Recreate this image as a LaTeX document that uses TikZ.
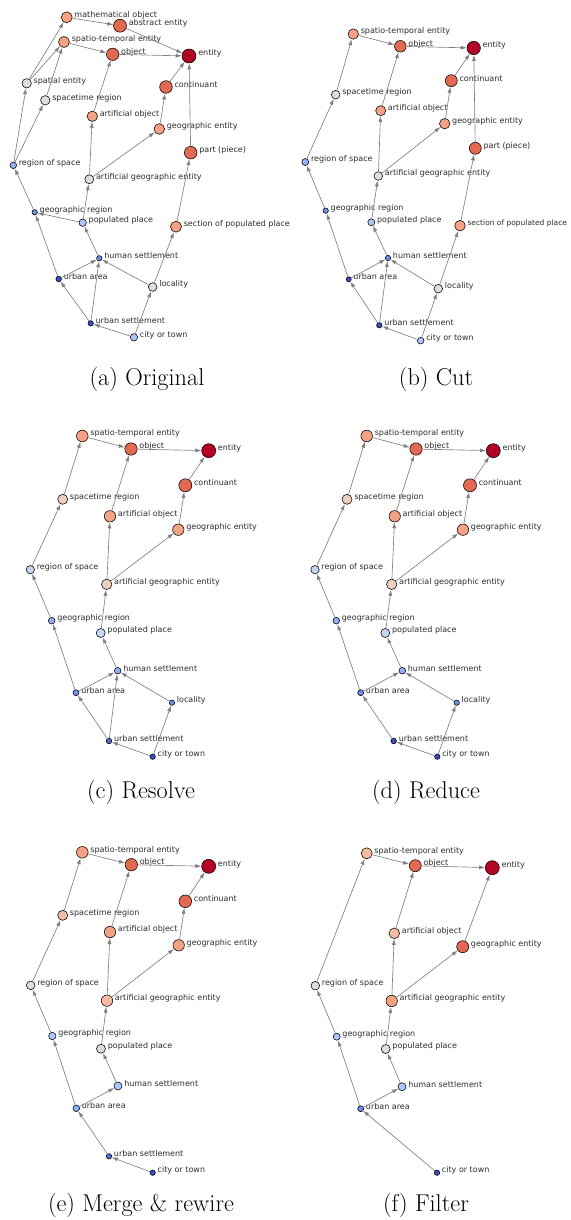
\documentclass[tikz,border=0pt]{standalone}
\usepackage{fontspec}
\newfontfamily\dejavu{DejaVu Sans}
\usetikzlibrary{arrows.meta}
\definecolor{cred}{RGB}{180,4,38}
\definecolor{wfour}{RGB}{226,105,82}
\definecolor{wthree}{RGB}{244,162,132}
\definecolor{wtwo}{RGB}{245,188,162}
\definecolor{wone}{RGB}{237,208,192}
\definecolor{cgray}{RGB}{221,221,221}
\definecolor{bsix}{RGB}{196,212,243}
\definecolor{bfive}{RGB}{172,199,251}
\definecolor{bfour}{RGB}{145,178,250}
\definecolor{bthree}{RGB}{108,142,234}
\definecolor{btwo}{RGB}{82,107,214}
\definecolor{bone}{RGB}{59,76,192}
\definecolor{edgegray}{RGB}{128,128,128}
\definecolor{labelgray}{RGB}{45,45,45}
\newcommand\mkn[6]{\node[nd={#5}{#4},label={[lbl]east:#6}] (#1) at (#2,#3) {};}
\tikzset{
  nd/.style 2 args={circle,draw=black,line width=0.55pt,inner sep=0pt,fill=#1,minimum size={2*#2pt}},
  lbl/.style={font=\dejavu\fontsize{8}{9}\selectfont,text=labelgray,inner sep=0pt,yshift=2.5pt},
  lblsmall/.style={lbl,font=\dejavu\fontsize{7.5}{9}\selectfont},
  label distance=1.8pt,
  edge/.style={draw=edgegray,line width=0.65pt,-{Latex[length=6pt,width=4pt]}},
  captxt/.style={font=\fontsize{24.3}{28}\selectfont,inner sep=0pt}
}
\begin{document}
\begin{tikzpicture}[x=1pt,y=-1pt]
\useasboundingbox[fill=white] (0,0) rectangle (570,1220);
% ---------------- (a) Original
\mkn{amo}{66.7}{17.3}{5.5}{wthree}{mathematical object}
\mkn{aae}{120}{25.7}{6.5}{wfour}{abstract entity}
\mkn{ast}{64}{42}{5.5}{wthree}{spatio-temporal entity}
\mkn{aob}{112.7}{54.3}{6.2}{wfour}{object}
\mkn{aen}{189}{56}{7}{cred}{entity}
\mkn{ase}{26.7}{83.3}{4.7}{cgray}{spatial entity}
\mkn{asr}{45.3}{100.3}{4.7}{cgray}{spacetime region}
\mkn{aco}{166}{87}{6.3}{wfour}{continuant}
\mkn{aao}{92.3}{116.3}{5.2}{wthree}{artificial object}
\mkn{age}{159.3}{129}{5.3}{wthree}{geographic entity}
\mkn{apa}{190.7}{152.7}{6.3}{wfour}{part (piece)}
\mkn{ars}{13.3}{165.3}{3.3}{bfour}{region of space}
\mkn{aag}{89.3}{179.3}{4.5}{cgray}{artificial geographic entity}
\mkn{agr}{34.7}{212.3}{2.7}{bthree}{geographic region}
\mkn{app}{82.7}{222.7}{3.7}{bfive}{populated place}
\mkn{asp}{176}{226.7}{5.5}{wthree}{section of populated place}
\mkn{ahs}{99.3}{258.3}{2.7}{bthree}{human settlement}
\mkn{aua}{58.7}{279}{2.8}{bone}{urban area}
\mkn{alo}{152.7}{287}{4.3}{cgray}{locality}
\mkn{aus}{90.7}{323.3}{2.7}{bone}{urban settlement}
\mkn{act}{134}{337.3}{3.7}{bfive}{city or town}
\foreach \s/\t in {amo/aae,aae/aen,ast/aob,aob/aen,aco/aen,apa/aen,ase/amo,ase/ast,asr/ast,aao/aob,age/aco,ars/ase,ars/asr,aag/aao,aag/age,agr/ars,app/agr,app/aag,asp/apa,ahs/app,aua/agr,aua/ahs,alo/ahs,alo/asp,aus/aua,aus/ahs,act/aus,act/alo}
  \draw[edge] (\s) -- (\t);
\node[captxt] (capa) at (147,379) {(a) Original};
% ---------------- (b) Cut
\mkn{bst}{353.3}{34}{5.2}{wthree}{spatio-temporal entity}
\mkn{bob}{400.3}{46.3}{5.8}{wfour}{object}
\mkn{ben}{473.7}{48}{6.7}{cred}{entity}
\mkn{bco}{451.3}{80.7}{6}{wfour}{continuant}
\mkn{bsr}{335.7}{94.7}{4.3}{cgray}{spacetime region}
\mkn{bao}{380.7}{110.7}{5}{wthree}{artificial object}
\mkn{bge}{444.7}{123.7}{5.2}{wthree}{geographic entity}
\mkn{bpa}{475.3}{148.3}{6}{wfour}{part (piece)}
\mkn{brs}{305.3}{162}{3.5}{bfour}{region of space}
\mkn{bag}{378.3}{176}{4.3}{cgray}{artificial geographic entity}
\mkn{bgr}{325.7}{210.7}{2.7}{bthree}{geographic region}
\mkn{bpp}{371.3}{222.3}{3.5}{bfive}{populated place}
\node[nd={wthree}{5.3},label={[lblsmall]east:section of populated place}] (bsp) at (460,225.7) {};
\mkn{bhs}{388}{258}{2.7}{bthree}{human settlement}
\mkn{bua}{348.7}{279.3}{2.5}{bone}{urban area}
\mkn{blo}{438.3}{288.7}{4.3}{cgray}{locality}
\mkn{bus}{379.3}{325.3}{2.7}{bone}{urban settlement}
\mkn{bct}{420.7}{340.7}{3.3}{bfive}{city or town}
\foreach \s/\t in {bst/bob,bob/ben,bco/ben,bpa/ben,bsr/bst,bao/bob,bge/bco,brs/bsr,bag/bao,bag/bge,bgr/brs,bpp/bag,bsp/bpa,bhs/bpp,bua/bgr,bua/bhs,blo/bhs,blo/bsp,bus/bua,bus/bhs,bct/bus,bct/blo}
  \draw[edge] (\s) -- (\t);
\node[captxt] (capb) at (436,379) {(b) Cut};
% ---------------- (c) Resolve
\mkn{cst}{82.3}{436}{5.8}{wthree}{spatio-temporal entity}
\mkn{cob}{131}{449}{6.2}{wfour}{object}
\mkn{cen}{208.7}{450.7}{7}{cred}{entity}
\mkn{cco}{185.3}{485.3}{6.5}{wfour}{continuant}
\mkn{csr}{62.7}{499.3}{5}{wone}{spacetime region}
\mkn{cao}{110}{516.3}{5.7}{wthree}{artificial object}
\mkn{cge}{178.3}{529.7}{5.7}{wthree}{geographic entity}
\mkn{crs}{30.3}{569.7}{4.2}{bsix}{region of space}
\mkn{cag}{106.7}{584.3}{5.2}{wone}{artificial geographic entity}
\mkn{cgr}{51.7}{620.7}{3.3}{bfour}{geographic region}
\mkn{cpp}{100.7}{633}{4.5}{bsix}{populated place}
\mkn{chs}{117.7}{670.7}{3.3}{bfour}{human settlement}
\mkn{cua}{76}{692.7}{3}{bthree}{urban area}
\mkn{clo}{172}{702.7}{2.7}{bthree}{locality}
\mkn{cus}{109}{741}{2.8}{btwo}{urban settlement}
\mkn{cct}{152.7}{756.7}{2.7}{bone}{city or town}
\foreach \s/\t in {cst/cob,cob/cen,cco/cen,csr/cst,cao/cob,cge/cco,crs/csr,cag/cao,cag/cge,cgr/crs,cpp/cag,chs/cpp,cua/cgr,cua/chs,clo/chs,cus/cua,cus/chs,cct/cus,cct/clo}
  \draw[edge] (\s) -- (\t);
\node[captxt] (capc) at (141,792) {(c) Resolve};
% ---------------- (d) Reduce
\mkn{dst}{366.7}{436}{5.8}{wthree}{spatio-temporal entity}
\mkn{dob}{416}{449}{6.2}{wfour}{object}
\mkn{den}{493.3}{450.7}{7}{cred}{entity}
\mkn{dco}{470}{485.3}{6.5}{wfour}{continuant}
\mkn{dsr}{347}{499.3}{5}{wone}{spacetime region}
\mkn{dao}{394.7}{516.3}{5.7}{wthree}{artificial object}
\mkn{dge}{463}{529.7}{5.7}{wthree}{geographic entity}
\mkn{drs}{315}{569.7}{4.2}{bsix}{region of space}
\mkn{dag}{391.7}{584.3}{5.2}{wone}{artificial geographic entity}
\mkn{dgr}{336.3}{620.7}{3.3}{bfour}{geographic region}
\mkn{dpp}{385.3}{633}{4.5}{bsix}{populated place}
\mkn{dhs}{402.3}{670.7}{3.3}{bfour}{human settlement}
\mkn{dua}{360.7}{692.7}{3}{bthree}{urban area}
\mkn{dlo}{456.7}{702.7}{2.7}{bthree}{locality}
\mkn{dus}{393.7}{741}{2.8}{bone}{urban settlement}
\mkn{dct}{437.3}{756.7}{2.7}{bone}{city or town}
\foreach \s/\t in {dst/dob,dob/den,dco/den,dsr/dst,dao/dob,dge/dco,drs/dsr,dag/dao,dag/dge,dgr/drs,dpp/dag,dhs/dpp,dua/dgr,dua/dhs,dlo/dhs,dus/dua,dct/dus,dct/dlo}
  \draw[edge] (\s) -- (\t);
\node[captxt] (capd) at (426,792) {(d) Reduce};
% ---------------- (e) Merge & rewire
\mkn{est}{82.3}{852.3}{5.8}{wthree}{spatio-temporal entity}
\mkn{eob}{131.3}{864.7}{6.2}{wfour}{object}
\mkn{een}{208.7}{866.3}{7}{cred}{entity}
\mkn{eco}{185.3}{901.3}{6.3}{wfour}{continuant}
\mkn{esr}{62.7}{915.3}{5}{wtwo}{spacetime region}
\mkn{eao}{110}{932}{5.7}{wthree}{artificial object}
\mkn{ege}{178.7}{945.3}{5.7}{wthree}{geographic entity}
\mkn{ers}{30.7}{985.3}{4.3}{cgray}{region of space}
\mkn{eag}{107}{1000.7}{5.7}{wtwo}{artificial geographic entity}
\mkn{egr}{52.3}{1036}{3.7}{bfive}{geographic region}
\mkn{epp}{101}{1048.7}{4.5}{cgray}{populated place}
\mkn{ehs}{118}{1086}{4}{bfive}{human settlement}
\mkn{eua}{76.3}{1108.3}{3.3}{bfour}{urban area}
\mkn{eus}{109}{1156.3}{2.7}{btwo}{urban settlement}
\mkn{ect}{152.7}{1172.7}{2.7}{bone}{city or town}
\foreach \s/\t in {est/eob,eob/een,eco/een,esr/est,eao/eob,ege/eco,ers/esr,eag/eao,eag/ege,egr/ers,epp/eag,ehs/epp,eua/egr,eua/ehs,eus/eua,ect/eus}
  \draw[edge] (\s) -- (\t);
\node[captxt] (cape) at (141,1205) {(e) Merge \& rewire};
% ---------------- (f) Filter
\mkn{fst}{366.7}{853.3}{5.5}{wtwo}{spatio-temporal entity}
\mkn{fob}{415.3}{865.7}{6}{wfour}{object}
\mkn{fen}{492.3}{867.7}{7}{cred}{entity}
\mkn{fao}{394.3}{933.3}{5.3}{wtwo}{artificial object}
\mkn{fge}{462.7}{946.7}{6}{wfour}{geographic entity}
\mkn{frs}{315.3}{985.7}{4.3}{cgray}{region of space}
\mkn{fag}{391.7}{1001}{5.7}{wthree}{artificial geographic entity}
\mkn{fgr}{336.7}{1036.7}{3.5}{bfive}{geographic region}
\mkn{fpp}{385.7}{1049}{4.5}{cgray}{populated place}
\mkn{fhs}{402}{1086.7}{4}{bfive}{human settlement}
\mkn{fua}{360.7}{1108.7}{3}{bthree}{urban area}
\mkn{fct}{437}{1172.7}{2.7}{bone}{city or town}
\foreach \s/\t in {fst/fob,fob/fen,fge/fen,frs/fst,fao/fob,fag/fao,fag/fge,fgr/frs,fpp/fag,fhs/fpp,fua/fgr,fua/fhs,fct/fua}
  \draw[edge] (\s) -- (\t);
\node[captxt] (capf) at (426,1205) {(f) Filter};
\end{tikzpicture}
\end{document}
